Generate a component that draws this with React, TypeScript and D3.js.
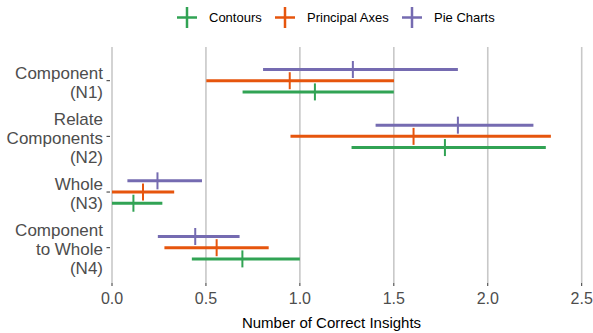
import React from 'react';
import * as d3 from 'd3';

// categories (y axis, top to bottom), each label split into lines
const categories = ['N1', 'N2', 'N3', 'N4'];
const categoryLabels = [
  ['Component', '(N1)'],
  ['Relate', 'Components', '(N2)'],
  ['Whole', '(N3)'],
  ['Component', 'to Whole', '(N4)'],
];

const seriesNames = ['Contours', 'Principal Axes', 'Pie Charts'];
const seriesColors = ['#31a354', '#e6550d', '#756bb1'];

// mean, lower and upper per category (N1..N4)
const contoursMean = [1.08, 1.772, 0.114, 0.694];
const contoursLo = [0.695, 1.275, 0.0, 0.425];
const contoursHi = [1.5, 2.309, 0.268, 1.0];

const axesMean = [0.946, 1.605, 0.165, 0.557];
const axesLo = [0.502, 0.95, 0.0, 0.279];
const axesHi = [1.501, 2.336, 0.331, 0.834];

const pieMean = [1.282, 1.841, 0.242, 0.443];
const pieLo = [0.804, 1.403, 0.082, 0.244];
const pieHi = [1.841, 2.243, 0.479, 0.679];

const xTicks = [0, 0.5, 1, 1.5, 2, 2.5];

const W = 593;
const H = 333;
const font = '"Liberation Sans", Arial, sans-serif';

const App = () => {
  const panel = { left: 110, right: 593, top: 47, bottom: 283 };

  const x = d3.scaleLinear().domain([0, 2.5]).range([112, 581.7]);
  const y = d3.scalePoint().domain(categories).range([80.7, 247.7]);
  // dodge: pie on top, principal axes in the middle, contours at the bottom
  const dodge = d3.scalePoint().domain(['Pie Charts', 'Principal Axes', 'Contours']).range([-11.2, 11.2]);

  const table = [
    { name: 'Contours', color: seriesColors[0], mean: contoursMean, lo: contoursLo, hi: contoursHi },
    { name: 'Principal Axes', color: seriesColors[1], mean: axesMean, lo: axesLo, hi: axesHi },
    { name: 'Pie Charts', color: seriesColors[2], mean: pieMean, lo: pieLo, hi: pieHi },
  ];

  const legendX = [187, 285, 412];

  return (
    <svg width={W} height={H} style={{ display: 'block', position: 'absolute', left: 0, top: 0 }} fontFamily={font}>
      <rect width={W} height={H} fill="white" />

      {/* grid */}
      {xTicks.map(t => (
        <line key={t} x1={x(t)} x2={x(t)} y1={panel.top} y2={panel.bottom} stroke="#c8c8c8" strokeWidth={1.6} />
      ))}

      {/* x axis ticks + labels */}
      {xTicks.map(t => (
        <g key={'xt' + t}>
          <line x1={x(t)} x2={x(t)} y1={panel.bottom} y2={panel.bottom + 3} stroke="#333" strokeWidth={1} />
          <text x={x(t)} y={298} textAnchor="middle" dominantBaseline="central" fontSize={16} fill="#4d4d4d">
            {d3.format('.1f')(t)}
          </text>
        </g>
      ))}
      <text x={331.5} y={322} textAnchor="middle" dominantBaseline="central" fontSize={15} fill="#000">
        Number of Correct Insights
      </text>

      {/* y axis ticks + labels */}
      {categories.map((c, i) => {
        const lines = categoryLabels[i];
        const cy = (y(c) as number) + 2;
        return (
          <g key={c}>
            <line x1={panel.left - 3.5} x2={panel.left} y1={y(c)} y2={y(c)} stroke="#333" strokeWidth={1} />
            {lines.map((l, j) => (
              <text
                key={j}
                x={103}
                y={cy + (j - (lines.length - 1) / 2) * 19}
                textAnchor="end"
                dominantBaseline="central"
                fontSize={17}
                fill="#4d4d4d"
              >
                {l}
              </text>
            ))}
          </g>
        );
      })}

      {/* error bars */}
      {table.map(s => (
        <g key={s.name}>
          {categories.map((c, i) => {
            const cy = (y(c) as number) + (dodge(s.name) as number);
            return (
              <g key={c}>
                <line x1={x(s.lo[i])} x2={x(s.hi[i])} y1={cy} y2={cy} stroke={s.color} strokeWidth={3} />
                <line x1={x(s.mean[i])} x2={x(s.mean[i])} y1={cy - 8.5} y2={cy + 8.5} stroke={s.color} strokeWidth={2} />
              </g>
            );
          })}
        </g>
      ))}

      {/* legend */}
      {seriesNames.map((n, i) => (
        <g key={n}>
          <line x1={legendX[i] - 10} x2={legendX[i] + 10} y1={17.5} y2={17.5} stroke={seriesColors[i]} strokeWidth={2.5} />
          <line x1={legendX[i]} x2={legendX[i]} y1={7} y2={28} stroke={seriesColors[i]} strokeWidth={2.5} />
          <text x={legendX[i] + 22} y={17.5} dominantBaseline="central" fontSize={13} fill="#000">
            {n}
          </text>
        </g>
      ))}
    </svg>
  );
};

export default App;
